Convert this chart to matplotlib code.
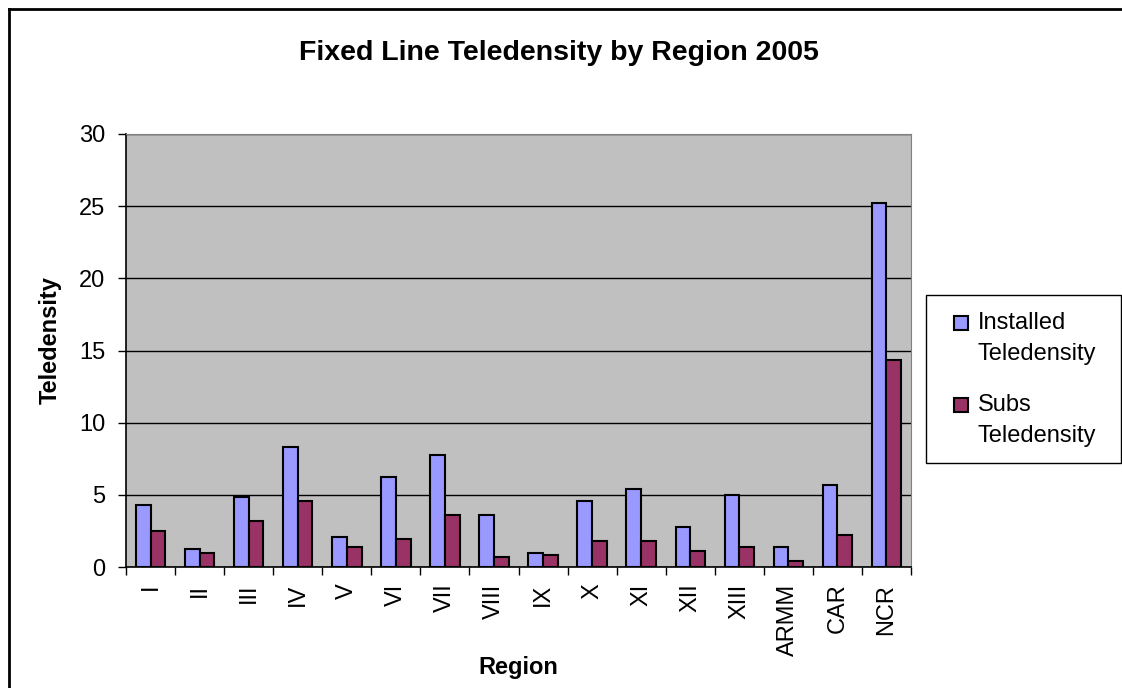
import matplotlib.pyplot as plt
import numpy as np
from matplotlib.patches import Rectangle
from matplotlib.lines import Line2D

plt.rcParams['font.family'] = ['Liberation Sans', 'DejaVu Sans']

regions = ['I', 'II', 'III', 'IV', 'V', 'VI', 'VII', 'VIII', 'IX', 'X',
           'XI', 'XII', 'XIII', 'ARMM', 'CAR', 'NCR']
installed = [4.3, 1.23, 4.85, 8.34, 2.07, 6.25, 7.78, 3.6, 0.95, 4.58,
             5.41, 2.76, 4.99, 1.37, 5.69, 25.19]
subs = [2.48, 0.95, 3.18, 4.58, 1.37, 1.93, 3.6, 0.67, 0.81, 1.79,
        1.79, 1.09, 1.37, 0.39, 2.2, 14.32]
series_names = ['Installed\nTeledensity', 'Subs\nTeledensity']
series_colors = ['#9999ff', '#993366']

W, H = 1122, 688
fig = plt.figure(figsize=(W / 100, H / 100), dpi=100)


def fx(px):
    return px / W


def fy(py):
    return 1 - py / H


ax = fig.add_axes([fx(126), fy(567), fx(911 - 126), (567 - 134) / H])
ax.set_facecolor('#c0c0c0')

x = np.arange(len(regions))
w = 0.3
for off, vals, col in [(-w / 2, installed, series_colors[0]), (w / 2, subs, series_colors[1])]:
    ax.bar(x + off, vals, w, color=col, edgecolor='black', linewidth=1.5, zorder=3)

ax.set_xlim(-0.5, len(regions) - 0.5)
ax.set_ylim(0, 30)
ax.set_yticks(range(0, 31, 5))
ax.yaxis.grid(True, color='black', linewidth=1)
ax.set_axisbelow(True)

# labels under each category, tick marks on the category boundaries
ax.set_xticks(x)
ax.set_xticklabels(regions, rotation=90, fontsize=17)
ax.tick_params(axis='x', length=0, pad=12)
ax.set_xticks(np.arange(-0.5, len(regions)), minor=True)
ax.tick_params(axis='x', which='minor', length=6, direction='out', width=1)
ax.tick_params(axis='y', labelsize=17, length=6, width=1, direction='out', pad=9)

for side in ['top', 'right']:
    ax.spines[side].set_color('#808080')
for side in ['left', 'bottom']:
    ax.spines[side].set_color('black')
    ax.spines[side].set_linewidth(1.2)

ax.set_xlabel('Region', fontsize=17, fontweight='bold')
ax.xaxis.set_label_coords(0.5, -0.233)
ax.xaxis.label.set_va('center')
ax.set_ylabel('Teledensity', fontsize=17, fontweight='bold')
ax.yaxis.set_label_coords(-0.097, 0.524)
ax.yaxis.label.set_va('center')

fig.text(fx(559), fy(53), 'Fixed Line Teledensity by Region 2005',
         ha='center', va='center', fontsize=20.5, fontweight='bold')

# legend box on the right
fig.patches.append(Rectangle((fx(926), fy(463)), fx(1121 - 926), (463 - 295) / H,
                             transform=fig.transFigure, facecolor='white',
                             edgecolor='black', linewidth=1))
for i, (name, col) in enumerate(zip(series_names, series_colors)):
    top = 316 + i * 82
    fig.patches.append(Rectangle((fx(954), fy(top + 14)), fx(14), 14 / H,
                                 transform=fig.transFigure, facecolor=col,
                                 edgecolor='black', linewidth=1.5))
    fig.text(fx(978), fy(top - 4), name, ha='left', va='top', fontsize=17,
             linespacing=1.55)

# chart frame, left and top edges
fig.add_artist(Line2D([fx(8.5), fx(8.5)], [0, fy(9)], transform=fig.transFigure,
                      color='black', linewidth=2))
fig.add_artist(Line2D([fx(8.5), 1], [fy(9), fy(9)], transform=fig.transFigure,
                      color='black', linewidth=2))

fig.savefig('out.png', dpi=100)
